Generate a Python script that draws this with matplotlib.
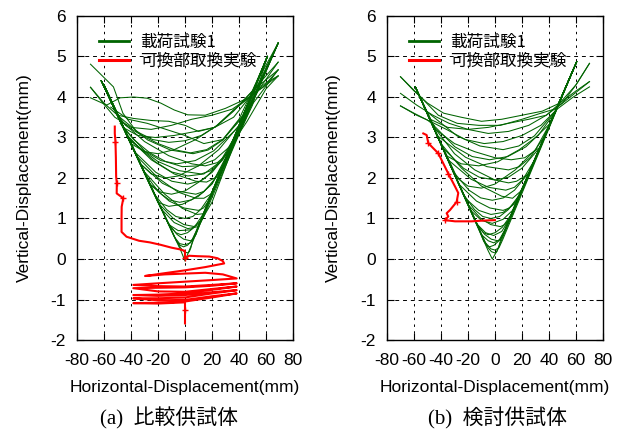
import matplotlib
matplotlib.use('Agg')
import matplotlib.pyplot as plt
from matplotlib.lines import Line2D

plt.rcParams['font.family'] = ['Liberation Sans', 'Noto Sans CJK JP', 'DejaVu Sans']
plt.rcParams['axes.unicode_minus'] = False

# axis ticks
x_ticks = [-80, -60, -40, -20, 0, 20, 40, 60, 80]
y_ticks = [-2, -1, 0, 1, 2, 3, 4, 5, 6]
legend_labels = ['載荷試験1', '可換部取換実験']
captions = ['(a)  比較供試体', '(b)  検討供試体']

# (a) green: loading cycles, one list per cycle
a_green_x = [
    [-62, -3, 0, 3, 61],
    [-62, -7.0, -3.4, -0.7, 2, 3.2, 4.4, 6.0, 61],
    [-62, -9.9, -6.3, -3.7, -1, 1.9, 4.7, 8.5, 69],
    [-60, -12.7, -6.0, -1.0, 4, 6.1, 8.1, 10.9, 61],
    [-62, -15.5, -10.5, -6.8, -3, 1.9, 6.8, 13.3, 69],
    [-60, -19.0, -8.6, -0.8, 7, 9.8, 12.6, 16.3, 61],
    [-62, -22.6, -13.6, -6.8, 0, 5.8, 11.6, 19.4, 69],
    [-60, -26.1, -11.7, -0.8, 10, 13.7, 17.4, 22.4, 61],
    [-62, -29.6, -19.4, -11.7, -4, 4.8, 13.6, 25.4, 61],
    [-60, -33.1, -16.7, -4.3, 8, 14.1, 20.2, 28.4, 69],
    [-62, -37.4, -21.6, -9.8, 2, 11.0, 20.1, 32.1, 61],
    [-60, -41.6, -20.2, -4.1, 12, 19.1, 26.2, 35.7, 69],
    [-62, -45.8, -29.9, -17.9, -6, 7.6, 21.2, 39.3, 61],
    [-60, -50.1, -27.7, -10.8, 6, 17.1, 28.1, 42.9, 69],
    [-70, -53, -46, -36, -24, -12, 0, 12, 24, 36, 50, 69],
    [-70, -60, -50, -38, -25, -12, 0, 10, 22, 36, 52, 69],
    [-70, -58, -48, -38, -28, -18, -8, 2, 15, 30, 45, 58, 69],
    [-53, -44, -32, -20, -8, 4, 16, 28, 40, 54, 69],
    [-48, -38, -26, -14, -2, 10, 22, 34, 46, 60, 69],
    [-44, -34, -22, -10, 2, 14, 26, 38, 50, 61],
    [-62, -47, -30, -12, 5, 15, 24, 31.5, 61],
    [-62, -42, -25, -8, 8, 16, 22, 27, 69],
    [-62, -36, -20, -5, 8, 14, 19, 23, 61],
    [-62, -30, -15, -2, 9, 14, 18, 61],
    [-60, -33, -25, -15, -5, 10, 25, 40, 55, 69],
    [-60, -26, -18, -10, 0, 15, 28, 38, 61],
    [-62, -40, -30, -20, -8, 8, 24, 40, 50, 69],
    [-62, -46, -35, -22, -8, 8, 22, 36, 48, 61],
    [-60, -8, -4, 0, 4, 8, 61],
    [-62, -18, -8, 2, 10, 14, 69],
    [-62, -20, -12, -2, 10, 20, 30, 61],
    [-60, -12, -5, 4, 12, 20, 61],
    [-70, -62, -52, -40, -25, -10, 5, 20, 35, 48, 60, 69],
    [-55, -42, -28, -14, 0, 14, 28, 40, 52, 69],
]
a_green_y = [
    [4.4, 0.2, -0.05, 0.2, 5.0],
    [4.4, 0.5, 0.28, 0.18, 0.15, 0.18, 0.28, 0.5, 5.0],
    [4.4, 0.7, 0.44, 0.34, 0.3, 0.34, 0.44, 0.7, 5.33],
    [4.3, 0.9, 0.61, 0.49, 0.45, 0.49, 0.61, 0.9, 5.0],
    [4.4, 1.1, 0.78, 0.65, 0.6, 0.65, 0.78, 1.1, 5.33],
    [4.3, 1.35, 1.0, 0.85, 0.8, 0.85, 1.0, 1.35, 5.0],
    [4.4, 1.6, 1.22, 1.05, 1.0, 1.05, 1.22, 1.6, 5.33],
    [4.3, 1.85, 1.43, 1.26, 1.2, 1.26, 1.43, 1.85, 5.0],
    [4.4, 2.1, 1.65, 1.46, 1.4, 1.46, 1.65, 2.1, 5.0],
    [4.3, 2.35, 1.87, 1.67, 1.6, 1.67, 1.87, 2.35, 5.33],
    [4.4, 2.65, 2.14, 1.92, 1.85, 1.92, 2.14, 2.65, 5.0],
    [4.3, 2.95, 2.41, 2.18, 2.1, 2.18, 2.41, 2.95, 5.33],
    [4.4, 3.25, 2.67, 2.43, 2.35, 2.43, 2.67, 3.25, 5.0],
    [4.3, 3.55, 2.94, 2.69, 2.6, 2.69, 2.94, 3.55, 5.33],
    [4.81, 4.25, 3.6, 3.15, 2.95, 2.88, 2.92, 3.05, 3.3, 3.65, 4.15, 4.86],
    [4.24, 3.85, 3.55, 3.47, 3.42, 3.4, 3.3, 3.15, 3.25, 3.68, 4.1, 4.52],
    [3.98, 3.8, 3.98, 4.0, 3.97, 3.85, 3.68, 3.56, 3.55, 3.72, 3.95, 4.25, 4.67],
    [3.7, 3.3, 3.05, 2.85, 2.7, 2.62, 2.7, 2.95, 3.4, 4.0, 4.67],
    [3.35, 2.95, 2.62, 2.4, 2.28, 2.3, 2.45, 2.8, 3.4, 4.2, 4.52],
    [3.1, 2.75, 2.4, 2.15, 2.05, 2.1, 2.4, 2.95, 3.8, 5.0],
    [4.4, 3.4, 2.9, 2.55, 2.35, 2.3, 2.38, 2.6, 5.0],
    [4.4, 3.0, 2.45, 2.1, 1.92, 1.9, 2.0, 2.2, 5.33],
    [4.4, 2.55, 2.0, 1.65, 1.5, 1.5, 1.6, 1.85, 5.0],
    [4.4, 2.15, 1.6, 1.25, 1.1, 1.12, 1.45, 5.0],
    [4.3, 2.35, 2.1, 2.0, 2.05, 2.3, 2.7, 3.3, 4.2, 4.86],
    [4.3, 1.85, 1.65, 1.6, 1.68, 2.0, 2.45, 3.1, 5.0],
    [4.4, 2.85, 2.65, 2.6, 2.7, 2.95, 3.3, 3.8, 4.15, 4.67],
    [4.4, 3.25, 3.05, 3.0, 3.05, 3.15, 3.25, 3.5, 4.0, 5.0],
    [4.3, 0.55, 0.38, 0.35, 0.4, 0.6, 5.0],
    [4.4, 1.25, 0.9, 0.75, 0.8, 1.05, 5.33],
    [4.4, 1.4, 1.3, 1.35, 1.55, 1.85, 2.5, 5.0],
    [4.3, 0.85, 0.7, 0.72, 0.95, 1.4, 5.0],
    [4.24, 3.9, 3.5, 3.25, 3.2, 3.3, 3.45, 3.55, 3.7, 4.0, 4.35, 4.52],
    [3.75, 3.45, 3.35, 3.2, 3.05, 2.85, 2.95, 3.45, 4.3, 5.33],
]

# (a) red: replacement test
a_red_x = [-52, -52, -51.5, -51.2, -51, -50.5, -50.6, -45.7, -46.9, -47, -47, -43.3,
           -34, -26, -18, -10, -4, 0, 0, 3, 9, 18, 24, 28, 29,
           15, 0, -15, -29.6,
           -15, 0, 15, 28, 38.3,
           20, 0, -20, -38.3,
           -20, 0, 20, 38.3,
           20, 0, -20, -38.3,
           -20, 0, 20, 38.3,
           20, 0, -20, -38.3,
           -20, 0, 20, 38.3,
           20, 0, -20, -38.3,
           -20, 0, 20, 38.3,
           20, 0, -20, -38.3,
           -20, 0, 0, 0, 0]
a_red_y = [3.27, 3.1, 2.9, 2.5, 2.03, 1.87, 1.62, 1.5, 1.29, 1.0, 0.67, 0.55,
           0.45, 0.41, 0.35, 0.28, 0.24, 0.2, 0.02, 0.08, 0.07, 0.06, 0.02, -0.05, -0.11,
           -0.2, -0.28, -0.35, -0.42,
           -0.38, -0.36, -0.34, -0.38, -0.48,
           -0.52, -0.56, -0.60, -0.64,
           -0.67, -0.68, -0.64, -0.60,
           -0.66, -0.70, -0.71, -0.72,
           -0.80, -0.81, -0.74, -0.68,
           -0.76, -0.85, -0.88, -0.89,
           -0.91, -0.89, -0.82, -0.77,
           -0.85, -0.95, -0.97, -0.97,
           -1.02, -1.01, -0.92, -0.85,
           -0.95, -1.05, -1.08, -1.09,
           -1.10, -1.07, -1.25, -1.45, -1.59]

# (b) green
b_green_x = [
    [-59, -5, -2, 1.5, 60.5],
    [-59, -8.7, -5.2, -2.6, 0, 1.3, 2.6, 4.4, 60.5],
    [-59, -11.4, -8.4, -6.2, -4, -0.7, 2.6, 7.0, 60.5],
    [-57, -14.1, -7.7, -2.8, 2, 4.3, 6.5, 9.5, 58],
    [-59, -16.7, -12.0, -8.5, -5, 0.1, 5.3, 12.1, 60.5],
    [-57, -20.1, -10.5, -3.2, 4, 7.4, 10.8, 15.3, 58],
    [-59, -23.4, -15.2, -9.1, -3, 3.5, 9.9, 18.5, 60.5],
    [-57, -26.8, -13.7, -3.8, 6, 10.7, 15.4, 21.7, 58],
    [-59, -30.8, -19.3, -10.6, -2, 6.3, 14.5, 25.5, 60.5],
    [-57, -34.8, -17.7, -4.8, 8, 14.4, 20.8, 29.4, 58],
    [-59, -38.9, -23.3, -11.7, 0, 10.0, 19.9, 33.2, 60.5],
    [-57, -42.9, -21.7, -5.9, 10, 18.1, 26.2, 37.0, 58],
    [-59, -46.9, -29.7, -16.9, -4, 9.5, 22.9, 40.9, 60.5],
    [-57, -50.9, -28.1, -11.1, 6, 17.6, 29.2, 44.7, 58],
    [-70, -60, -50, -38, -25, -10, 5, 20, 35, 48, 60, 70],
    [-70, -58, -46, -34, -20, -5, 10, 25, 38, 50, 60, 70],
    [-70, -58, -48, -36, -22, -8, 6, 20, 34, 46, 58, 70],
    [-70, -60, -50, -45],
    [-59, -7, -3, 0, 3, 6, 60.5],
    [-57, -10, -5, -1, 4, 8, 58],
    [-59, -13, -7, -1, 5, 10, 60.5],
    [-57, -18, -10, -2, 6, 13, 58],
    [-59, -45, -30, -15, 0, 10, 16, 25, 60.5],
    [-57, -40, -25, -10, 5, 13, 20, 58],
    [-59, -28, -20, -10, 0, 15, 30, 40, 60.5],
    [-57, -36, -25, -12, 2, 18, 32, 44, 58],
    [-59, -48, -35, -20, -5, 10, 25, 38, 50, 60, 70],
    [-70, -55, -42, -28, -12, 4, 20, 34, 44, 52, 70],
    [-57, -44, -30, -15, 0, 12, 22, 33, 58],
    [-59, -22, -12, -3, 6, 16, 60.5],
]
b_green_y = [
    [4.25, 0.2, 0.0, 0.2, 4.87],
    [4.25, 0.5, 0.28, 0.18, 0.15, 0.18, 0.28, 0.5, 4.87],
    [4.25, 0.7, 0.44, 0.34, 0.3, 0.34, 0.44, 0.7, 4.87],
    [4.1, 0.9, 0.61, 0.49, 0.45, 0.49, 0.61, 0.9, 4.68],
    [4.25, 1.1, 0.78, 0.65, 0.6, 0.65, 0.78, 1.1, 4.87],
    [4.1, 1.35, 1.0, 0.85, 0.8, 0.85, 1.0, 1.35, 4.68],
    [4.25, 1.6, 1.22, 1.05, 1.0, 1.05, 1.22, 1.6, 4.87],
    [4.1, 1.85, 1.43, 1.26, 1.2, 1.26, 1.43, 1.85, 4.68],
    [4.25, 2.15, 1.7, 1.51, 1.45, 1.51, 1.7, 2.15, 4.87],
    [4.1, 2.45, 1.97, 1.77, 1.7, 1.77, 1.97, 2.45, 4.68],
    [4.25, 2.75, 2.24, 2.02, 1.95, 2.02, 2.24, 2.75, 4.87],
    [4.1, 3.05, 2.51, 2.28, 2.2, 2.28, 2.51, 3.05, 4.68],
    [4.25, 3.35, 2.77, 2.53, 2.45, 2.53, 2.77, 3.35, 4.87],
    [4.1, 3.65, 3.04, 2.79, 2.7, 2.79, 3.04, 3.65, 4.68],
    [4.5, 4.15, 3.85, 3.6, 3.5, 3.4, 3.45, 3.55, 3.65, 3.85, 4.3, 4.83],
    [4.09, 3.8, 3.55, 3.35, 3.2, 3.1, 3.15, 3.3, 3.55, 3.9, 4.15, 4.38],
    [3.78, 3.55, 3.4, 3.2, 2.95, 2.85, 2.9, 3.05, 3.3, 3.7, 4.0, 4.25],
    [3.78, 3.6, 3.43, 3.3],
    [4.25, 0.4, 0.25, 0.22, 0.28, 0.5, 4.87],
    [4.1, 0.6, 0.45, 0.4, 0.48, 0.75, 4.68],
    [4.25, 0.85, 0.65, 0.58, 0.68, 0.95, 4.87],
    [4.1, 1.2, 0.95, 0.88, 0.98, 1.2, 4.68],
    [4.25, 3.25, 2.6, 2.2, 1.95, 1.88, 1.92, 2.1, 4.87],
    [4.1, 2.85, 2.25, 1.8, 1.55, 1.5, 1.7, 4.68],
    [4.25, 2.0, 1.8, 1.75, 1.85, 2.2, 2.7, 3.3, 4.87],
    [4.1, 2.55, 2.35, 2.3, 2.4, 2.7, 3.05, 3.6, 4.68],
    [4.25, 3.45, 3.25, 3.2, 3.25, 3.35, 3.45, 3.55, 3.85, 4.3, 4.83],
    [4.5, 4.0, 3.55, 3.35, 3.3, 3.3, 3.45, 3.6, 3.7, 3.9, 4.38],
    [4.1, 3.2, 2.85, 2.65, 2.5, 2.45, 2.5, 2.75, 4.68],
    [4.25, 1.5, 1.2, 1.1, 1.15, 1.4, 4.87],
]

# (b) red
b_red_x = [-53.1, -50.6, -49.4, -44.4, -42, -38.3, -34.6, -29.6, -27.2, -28.4,
           -33.3, -35.8, -34.6, -37.0, -29.6, -17.3, -8, 0]
b_red_y = [3.10, 3.06, 2.86, 2.69, 2.61, 2.36, 2.11, 1.79, 1.63, 1.41,
           1.21, 1.13, 1.05, 0.96, 0.93, 0.93, 0.95, 0.96]

GREEN = '#006400'
RED = '#ff0000'

fig = plt.figure(figsize=(6.27, 4.30), dpi=100)
ax_a = fig.add_axes([0.1228, 0.2093, 0.3445, 0.7535])
ax_b = fig.add_axes([0.6172, 0.2093, 0.3445, 0.7535])

panels = [
    (ax_a, a_green_x, a_green_y, a_red_x, a_red_y, [2, 5, 7, 18, 72]),
    (ax_b, b_green_x, b_green_y, b_red_x, b_red_y, [2, 4, 6, 9, 13]),
]

for ax, gx, gy, rx, ry, marks in panels:
    # grid (y=0 dash-dot like gnuplot zeroaxis)
    for v in x_ticks[1:-1]:
        ax.axvline(v, color='k', lw=0.7, ls=(0, (2.5, 4.5)), zorder=0.5)
    for v in y_ticks[1:-1]:
        ls = (0, (5, 2.5, 1.2, 2.5)) if v == 0 else (0, (4, 4))
        ax.axhline(v, color='k', lw=0.7, ls=ls, zorder=0.5)

    for xs, ys in zip(gx, gy):
        ax.plot(xs, ys, color=GREEN, lw=0.75)
    ax.plot(rx, ry, color=RED, lw=1.5, marker='+', ms=5, mew=1.0, markevery=marks)

    ax.set_xlim(-80, 80)
    ax.set_ylim(-2, 6)
    ax.set_xticks(x_ticks)
    ax.set_yticks(y_ticks)
    ax.tick_params(direction='in', top=True, right=True, length=5, width=0.8,
                   labelsize=12.5)
    ax.tick_params(axis='x', pad=9)
    ax.tick_params(axis='y', pad=8)
    for s in ax.spines.values():
        s.set_linewidth(1.0)

    handles = [Line2D([], [], color=GREEN, lw=2.0), Line2D([], [], color=RED, lw=2.2)]
    ax.legend(handles, legend_labels, loc='upper left', bbox_to_anchor=(0.1, 0.945),
              frameon=False, handlelength=1.8, handletextpad=0.7, labelspacing=0.1,
              borderpad=0, borderaxespad=0, prop={'family': ['Noto Sans CJK JP'], 'size': 12})

for cx, yx in [(0.295, 0.0383), (0.7895, 0.531)]:
    fig.text(cx, 0.0977, 'Horizontal-Displacement(mm)', ha='center', va='center', fontsize=12.5)
    fig.text(yx, 0.586, 'Vertical-Displacement(mm)', ha='center', va='center',
             rotation=90, fontsize=12.5)

fig.text(0.27, 0.026, captions[0], ha='center', va='center', fontsize=15,
         family=['Liberation Serif', 'Noto Sans CJK JP'])
fig.text(0.7935, 0.026, captions[1], ha='center', va='center', fontsize=15,
         family=['Liberation Serif', 'Noto Sans CJK JP'])

fig.savefig('out.png', dpi=100)
